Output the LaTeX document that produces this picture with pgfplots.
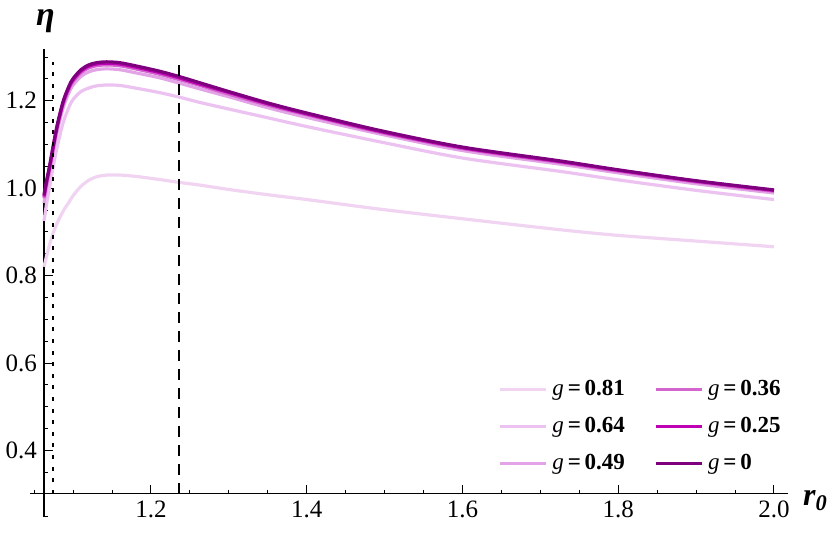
\documentclass[border=0pt]{standalone}
\usepackage{fontspec}
\setmainfont{Liberation Serif}
\usepackage{pgfplots}
\pgfplotsset{compat=1.18}
\usepackage{pgfplotstable}
\definecolor{c81}{HTML}{F0D4F2}
\definecolor{c64}{HTML}{ECC2F1}
\definecolor{c49}{HTML}{E2A4E6}
\definecolor{c36}{HTML}{D464CE}
\definecolor{c25}{HTML}{C000B4}
\definecolor{c0}{HTML}{7F007F}
\pgfplotstableread{
x g0 g25 g36 g49 g64 g81
1.0626 0.985 0.981 0.977 0.966 0.925 0.820
1.066 1.018 1.015 1.010 1.001 0.965 0.845
1.070 1.053 1.050 1.046 1.037 1.004 0.872
1.0745 1.098 1.095 1.091 1.083 1.050 0.898
1.080 1.148 1.145 1.141 1.133 1.098 0.922
1.0874 1.200 1.197 1.193 1.185 1.151 0.948
1.095 1.235 1.232 1.228 1.220 1.187 0.969
1.100 1.251 1.248 1.244 1.236 1.203 0.983
1.110 1.271 1.268 1.264 1.2555 1.221 1.004
1.120 1.282 1.279 1.275 1.266 1.229 1.018
1.130 1.287 1.284 1.280 1.271 1.234 1.026
1.143 1.289 1.286 1.282 1.273 1.236 1.030
1.160 1.287 1.284 1.280 1.271 1.235 1.030
1.180 1.280 1.277 1.273 1.264 1.229 1.027
1.210 1.268 1.265 1.261 1.253 1.219 1.020
1.237 1.255 1.252 1.248 1.240 1.208 1.013
1.263 1.241 1.238 1.235 1.227 1.196 1.007
1.300 1.221 1.219 1.215 1.209 1.181 0.997
1.350 1.195 1.193 1.190 1.184 1.161 0.985
1.400 1.172 1.170 1.168 1.162 1.141 0.974
1.494 1.132 1.130 1.128 1.124 1.106 0.952
1.600 1.094 1.0925 1.0905 1.086 1.069 0.930
1.725 1.0625 1.061 1.059 1.055 1.0385 0.905
1.800 1.042 1.041 1.039 1.035 1.019 0.892
1.900 1.017 1.016 1.014 1.010 0.995 0.879
2.000 0.996 0.995 0.993 0.989 0.974 0.866
}\data
\begin{document}
\begin{tikzpicture}
\begin{axis}[
  scale only axis, width=372pt, height=222.5pt,
  xmin=1.0626, xmax=2.018, ymin=0.301, ymax=1.319,
  axis lines=left, axis line style={-, line width=0.6pt, black},
  tick align=inside,
  xtick={1.2,1.4,1.6,1.8,2.0},
  minor xtick={1.1,1.15,1.25,1.3,1.35,1.45,1.5,1.55,1.65,1.7,1.75,1.85,1.9,1.95},
  ytick={0.4,0.6,0.8,1.0,1.2},
  minor ytick={0.35,0.45,0.5,0.55,0.65,0.7,0.75,0.85,0.9,0.95,1.05,1.1,1.15,1.25,1.3},
  major tick length=4.5pt, minor tick length=2pt,
  every tick/.style={black, line width=0.5pt},
  ticklabel style={font=\fontsize{12.5}{14}\selectfont},
  /pgf/number format/.cd, fixed, fixed zerofill, precision=1, assume math mode=true,
  /pgfplots/.cd,
  clip=false,
  legend columns=2,
  legend cell align=left,
  legend style={at={(axis cs:1.6454,0.5735)}, anchor=north west, draw=none, fill=none,
    font=\fontsize{11.5}{12}\selectfont, row sep=4.5pt, inner sep=0pt,
    /tikz/every even column/.append style={column sep=12pt},
    nodes={inner sep=2.5pt}},
  legend image code/.code={\draw[#1] (0pt,0pt) -- (23pt,0pt);},
]
\addplot[c81, line width=1.6pt, smooth, forget plot] table[x=x, y=g81] {\data};
\addplot[c64, line width=1.6pt, smooth, forget plot] table[x=x, y=g64] {\data};
\addplot[c49, line width=1.6pt, smooth, forget plot] table[x=x, y=g49] {\data};
\addplot[c36, line width=1.6pt, smooth, forget plot] table[x=x, y=g36] {\data};
\addplot[c25, line width=1.6pt, smooth, forget plot] table[x=x, y=g25] {\data};
\addplot[c0, line width=1.6pt, smooth, forget plot] table[x=x, y=g0] {\data};
\addplot[black, line width=0.85pt, dash pattern=on 2pt off 3.8pt, forget plot] coordinates {(1.0738,0.301) (1.0738,1.289)};
\addplot[black, line width=0.9pt, dash pattern=on 5.5pt off 4pt, forget plot] coordinates {(1.2364,0.301) (1.2364,1.297)};
\addlegendimage{c81, line width=1.6pt}
\addlegendentry{\textit{g}\,\textbf{=\,0.81}}
\addlegendimage{c36, line width=1.6pt}
\addlegendentry{\textit{g}\,\textbf{=\,0.36}}
\addlegendimage{c64, line width=1.6pt}
\addlegendentry{\textit{g}\,\textbf{=\,0.64}}
\addlegendimage{c25, line width=1.6pt}
\addlegendentry{\textit{g}\,\textbf{=\,0.25}}
\addlegendimage{c49, line width=1.6pt}
\addlegendentry{\textit{g}\,\textbf{=\,0.49}}
\addlegendimage{c0, line width=1.6pt}
\addlegendentry{\textit{g}\,\textbf{=\,0}}
% axis extensions (Mathematica-style crossing)
\draw[line width=0.6pt] (axis cs:1.0446,0.301) -- (axis cs:1.0626,0.301);
\draw[line width=0.5pt] (axis cs:1.05,0.301) -- ([yshift=2pt]axis cs:1.05,0.301);
\draw[line width=0.6pt] (axis cs:1.0626,0.247) -- (axis cs:1.0626,0.301);
\draw[line width=0.5pt] (axis cs:1.0626,0.25) -- ([xshift=2pt]axis cs:1.0626,0.25);
\node[font=\fontsize{17}{18}\selectfont\bfseries\itshape] at (axis cs:1.0645,1.383) {η};
\node[anchor=west, inner sep=0pt, font=\fontsize{16}{17}\selectfont\bfseries\itshape] at (axis cs:2.037,0.285) {r\textsubscript{0}};
\coordinate (ll) at (axis cs:1.0061,0.2031);
\coordinate (ur) at (axis cs:2.0771,1.4305);
\end{axis}
\pgfresetboundingbox
\path[use as bounding box] (ll) rectangle (ur);
\end{tikzpicture}
\end{document}
